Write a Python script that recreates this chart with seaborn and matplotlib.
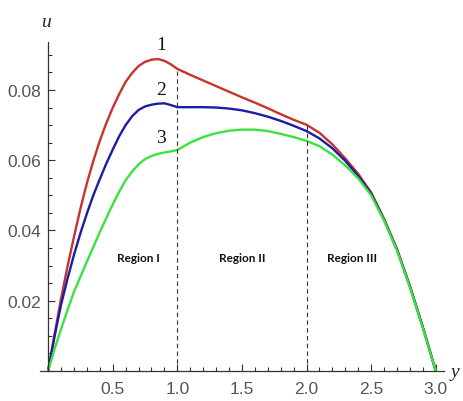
import pandas as pd
import matplotlib
matplotlib.use("Agg")
import matplotlib.pyplot as plt
import seaborn as sns
from matplotlib.ticker import MultipleLocator

# values
y_vals = [0, 0.05, 0.1, 0.15, 0.2, 0.25, 0.3, 0.35, 0.4, 0.45, 0.5, 0.55, 0.6, 0.65,
          0.7, 0.75, 0.8, 0.85, 0.9, 0.95, 1.0, 1.1, 1.2, 1.3, 1.4, 1.5, 1.6, 1.7,
          1.8, 1.9, 2.0, 2.1, 2.2, 2.3, 2.4, 2.5, 2.6, 2.7, 2.8, 2.9, 2.95, 3.0]
u_curve1 = [0, 0.0104, 0.0205, 0.0297, 0.0381, 0.0462, 0.0534, 0.0598, 0.0655, 0.0705,
            0.0749, 0.0788, 0.0823, 0.0848, 0.0868, 0.0880, 0.0886, 0.0888, 0.0883, 0.0873,
            0.0860, 0.0843, 0.0827, 0.0811, 0.0795, 0.0779, 0.0764, 0.0748, 0.0731, 0.0715,
            0.0701, 0.0678, 0.0645, 0.0605, 0.0561, 0.0508, 0.0433, 0.0347, 0.0242, 0.0125,
            0.0063, 0]
u_curve2 = [0, 0.0098, 0.0188, 0.0262, 0.0330, 0.0392, 0.0448, 0.0500, 0.0546, 0.0590,
            0.0630, 0.0668, 0.0700, 0.0725, 0.0743, 0.0753, 0.0758, 0.0761, 0.0762, 0.0757,
            0.0751, 0.0751, 0.0751, 0.0750, 0.0747, 0.0742, 0.0734, 0.0724, 0.0712, 0.0698,
            0.0683, 0.0662, 0.0634, 0.0598, 0.0555, 0.0505, 0.0430, 0.0345, 0.0240, 0.0124,
            0.0062, 0]
u_curve3 = [0, 0.0062, 0.0119, 0.0173, 0.0225, 0.0268, 0.0311, 0.0353, 0.0395, 0.0435,
            0.0474, 0.0510, 0.0543, 0.0568, 0.0588, 0.0603, 0.0612, 0.0618, 0.0622, 0.0625,
            0.0629, 0.0650, 0.0666, 0.0677, 0.0684, 0.0687, 0.0687, 0.0683, 0.0675, 0.0666,
            0.0655, 0.0640, 0.0616, 0.0585, 0.0548, 0.0500, 0.0428, 0.0343, 0.0238, 0.0122,
            0.0061, 0]

curve_names = ["1", "2", "3"]
curve_colors = ["#c8322f", "#1c1ca6", "#3ce23c"]
region_names = ["Region I", "Region II", "Region III"]
region_pos = [0.70, 1.50, 2.35]
boundaries = [1.0, 2.0]

df = pd.DataFrame({
    "y": y_vals * 3,
    "u": u_curve1 + u_curve2 + u_curve3,
    "curve": [n for n in curve_names for _ in y_vals],
})

sns.set_style("white")
plt.rcParams["font.family"] = ["DejaVu Sans"]

fig = plt.figure(figsize=(4.64, 4.02), dpi=100)
ax = fig.add_axes([0.0869, 0.0746, 0.869, 0.818])

sns.lineplot(data=df, x="y", y="u", hue="curve", palette=curve_colors,
             linewidth=1.7, legend=False, ax=ax, sort=False)

# dashed region boundaries up to the top curve
for b in boundaries:
    top = u_curve1[y_vals.index(b)]
    ax.plot([b, b], [0, top], color="#333333", lw=0.8, ls=(0, (4, 3)))

for name, xp in zip(region_names, region_pos):
    ax.text(xp, 0.0322, name, ha="center", va="center", fontsize=8.5,
            fontweight="bold", family=["Lato", "DejaVu Sans"], color="#111111")

label_pos = [(0.876, 0.0929), (0.876, 0.0802), (0.876, 0.0666)]
for name, (xp, up) in zip(curve_names, label_pos):
    ax.text(xp, up, name, ha="center", va="center", fontsize=14,
            family=["Liberation Serif", "DejaVu Serif"], color="#111111")

ax.set_xlim(-0.06, 3.06)
ax.set_ylim(0, 0.0936)
ax.spines["left"].set_position(("data", 0))
ax.spines["bottom"].set_position(("data", 0))
ax.spines["top"].set_visible(False)
ax.spines["right"].set_visible(False)
for s in ["left", "bottom"]:
    ax.spines[s].set_color("#333333")
    ax.spines[s].set_linewidth(0.9)

ax.xaxis.set_major_locator(MultipleLocator(0.5))
ax.xaxis.set_minor_locator(MultipleLocator(0.1))
ax.yaxis.set_major_locator(MultipleLocator(0.02))
ax.yaxis.set_minor_locator(MultipleLocator(0.005))
ax.set_xticks([0.5, 1.0, 1.5, 2.0, 2.5, 3.0])
ax.set_xticklabels(["0.5", "1.0", "1.5", "2.0", "2.5", "3.0"])
ax.set_yticks([0.02, 0.04, 0.06, 0.08])
ax.set_yticklabels(["0.02", "0.04", "0.06", "0.08"])
ax.tick_params(which="both", bottom=True, left=True, direction="in",
               colors="#333333", width=0.8, labelcolor="#555555", labelsize=12.5)
ax.tick_params(which="major", length=5)
ax.tick_params(axis="x", which="major", pad=7)
ax.tick_params(axis="y", which="major", pad=5)
ax.tick_params(which="minor", length=3)
for lab in ax.get_xticklabels() + ax.get_yticklabels():
    lab.set_family(["Liberation Sans", "DejaVu Sans"])

ax.set_xlabel("")
ax.set_ylabel("")
ax.text(0.014, 1.064, "u", transform=ax.transAxes, ha="center", va="center",
        fontsize=14, style="italic", family=["Liberation Serif", "DejaVu Serif"])
ax.text(1.028, 0.0, "y", transform=ax.transAxes, ha="center", va="center",
        fontsize=14, style="italic", family=["Liberation Serif", "DejaVu Serif"])

fig.savefig("out.png", dpi=100)
